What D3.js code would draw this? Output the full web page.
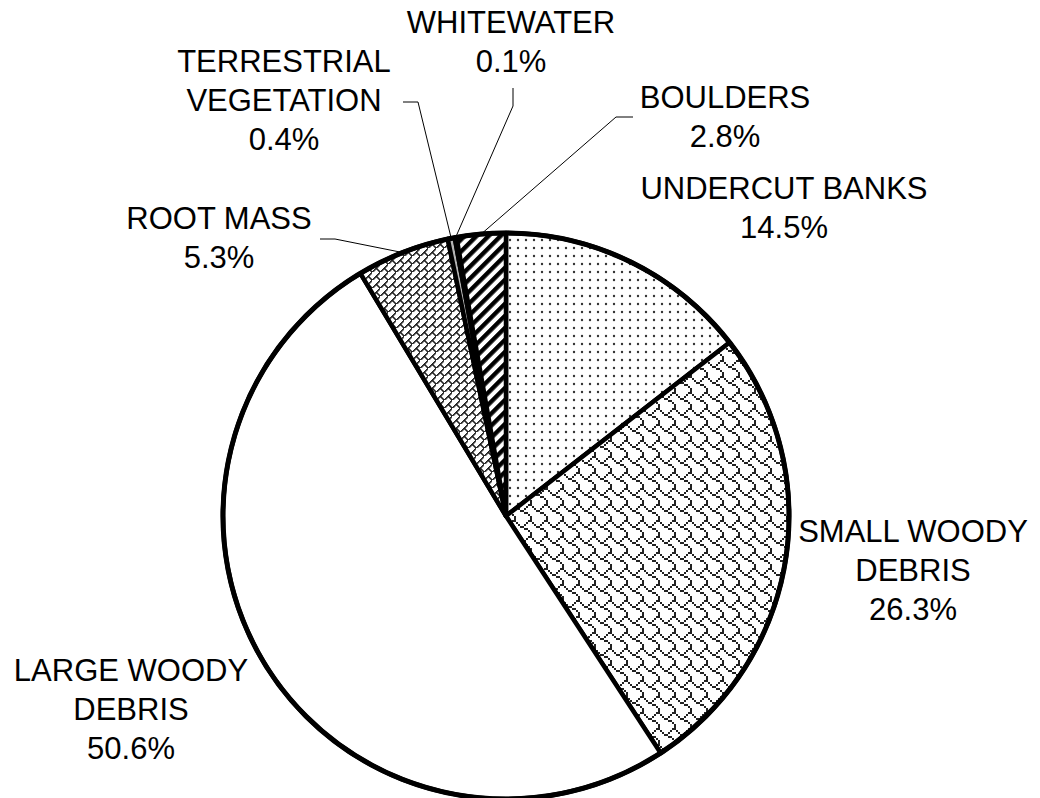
<!DOCTYPE html>
<html>
<head>
<meta charset="utf-8">
<script src="https://cdn.jsdelivr.net/npm/d3@7"></script>
<style>
  html, body { margin: 0; padding: 0; background: #fff; }
  text { font-family: "Liberation Sans", Arial, Helvetica, sans-serif; fill: #000; }
</style>
</head>
<body>
<svg id="chart" width="1040" height="798"></svg>
<script>
// Share of instream cover by type (percent), clockwise from 12 o'clock
const categories = ["UNDERCUT BANKS", "SMALL WOODY DEBRIS", "LARGE WOODY DEBRIS",
                    "ROOT MASS", "TERRESTRIAL VEGETATION", "WHITEWATER", "BOULDERS"];
const shares = [14.5, 26.3, 50.6, 5.3, 0.4, 0.1, 2.8];
const labelLines = [["UNDERCUT BANKS"], ["SMALL WOODY", "DEBRIS"], ["LARGE WOODY", "DEBRIS"],
                    ["ROOT MASS"], ["TERRESTRIAL", "VEGETATION"], ["WHITEWATER"], ["BOULDERS"]];

// ---- layout ----
const W = 1040, H = 798;
const cx = 506, cy = 516, R = 283;
const fontSize = 31, lineGap = 39;

// label block anchor: centre x and baseline of first line
const labelLayout = {
  "UNDERCUT BANKS":         { x: 784, y: 199 },
  "SMALL WOODY DEBRIS":     { x: 913, y: 542 },
  "LARGE WOODY DEBRIS":     { x: 131, y: 681 },
  "ROOT MASS":              { x: 219, y: 229 },
  "TERRESTRIAL VEGETATION": { x: 284, y: 72 },
  "WHITEWATER":             { x: 511, y: 33 },
  "BOULDERS":               { x: 725, y: 108 }
};
// leader lines: label-side points, ending on the rim at the slice middle
const leaderLayout = {
  "ROOT MASS":              [[320, 239], [335, 239]],
  "TERRESTRIAL VEGETATION": [[403, 102], [418, 102]],
  "WHITEWATER":             [[513, 88], [513, 106]],
  "BOULDERS":               [[633, 117], [616, 117]]
};

const svg = d3.select("#chart");
const defs = svg.append("defs");

// bitmap fill helper: rows of 8-bit masks, MSB = leftmost pixel
function bitmapPattern(id, rows, scale, dot, color) {
  const size = 8 * scale;
  const p = defs.append("pattern").attr("id", id)
    .attr("patternUnits", "userSpaceOnUse")
    .attr("width", size).attr("height", size)
    .attr("x", cx).attr("y", cy);
  p.append("rect").attr("width", size).attr("height", size).attr("fill", "#fff");
  rows.forEach((bits, r) => {
    for (let c = 0; c < 8; c++) {
      if (bits & (0x80 >> c)) {
        p.append("rect").attr("x", c * scale).attr("y", r * scale)
          .attr("width", dot).attr("height", dot).attr("fill", color);
      }
    }
  });
}

// dotted fill
const dots = defs.append("pattern").attr("id", "dots")
  .attr("patternUnits", "userSpaceOnUse").attr("width", 8).attr("height", 8);
dots.append("rect").attr("width", 8).attr("height", 8).attr("fill", "#fff");
dots.append("circle").attr("cx", 4).attr("cy", 4).attr("r", 1.2).attr("fill", "#333");

// shingle fill
bitmapPattern("shingle", [0x03, 0x84, 0x48, 0x30, 0x0c, 0x02, 0x01, 0x01], 2, 2, "#222");
// diagonal brick fill
bitmapPattern("brick", [0x01, 0x02, 0x04, 0x08, 0x18, 0x24, 0x42, 0x81], 1, 1.6, "#222");

// wide upward diagonal stripes
const stripes = defs.append("pattern").attr("id", "stripes")
  .attr("patternUnits", "userSpaceOnUse").attr("width", 8.5).attr("height", 8.5)
  .attr("patternTransform", "rotate(45)");
stripes.append("rect").attr("width", 8.5).attr("height", 8.5).attr("fill", "#fff");
stripes.append("rect").attr("width", 4.4).attr("height", 8.5).attr("fill", "#000");

const fills = {
  "UNDERCUT BANKS": "url(#dots)",
  "SMALL WOODY DEBRIS": "url(#shingle)",
  "LARGE WOODY DEBRIS": "#fff",
  "ROOT MASS": "url(#brick)",
  "TERRESTRIAL VEGETATION": "#b4b4b4",
  "WHITEWATER": "#fff",
  "BOULDERS": "url(#stripes)"
};

const pie = d3.pie().sort(null).value(d => d.value)
  .startAngle(0).endAngle(2 * Math.PI);
const slices = pie(categories.map((c, i) => ({ name: c, value: shares[i], lines: labelLines[i] })));

const arc = d3.arc().innerRadius(0).outerRadius(R);

const g = svg.append("g").attr("transform", `translate(${cx},${cy})`);

g.selectAll("path.slice").data(slices).join("path")
  .attr("class", "slice")
  .attr("d", arc)
  .attr("fill", d => fills[d.data.name])
  .attr("stroke", "#000")
  .attr("stroke-width", 4.5)
  .attr("stroke-linejoin", "round");

g.append("circle").attr("r", R).attr("fill", "none")
  .attr("stroke", "#000").attr("stroke-width", 5);

// leader lines
const rimPoint = d => {
  const a = (d.startAngle + d.endAngle) / 2;
  return [cx + R * Math.sin(a), cy - R * Math.cos(a)];
};
const line = d3.line();
svg.selectAll("path.leader")
  .data(slices.filter(d => leaderLayout[d.data.name]))
  .join("path")
  .attr("class", "leader")
  .attr("d", d => line(leaderLayout[d.data.name].concat([rimPoint(d)])))
  .attr("fill", "none")
  .attr("stroke", "#000")
  .attr("stroke-width", 1);

// labels
const fmt = d3.format(".1f");
const labels = svg.selectAll("text.label").data(slices).join("text")
  .attr("class", "label")
  .attr("text-anchor", "middle")
  .attr("font-size", fontSize)
  .attr("x", d => labelLayout[d.data.name].x)
  .attr("y", d => labelLayout[d.data.name].y);

labels.each(function(d) {
  const t = d3.select(this);
  const pos = labelLayout[d.data.name];
  const rows = d.data.lines.concat([fmt(d.data.value) + "%"]);
  rows.forEach((s, i) => {
    t.append("tspan").attr("x", pos.x).attr("y", pos.y + i * lineGap).text(s);
  });
});
</script>
</body>
</html>
